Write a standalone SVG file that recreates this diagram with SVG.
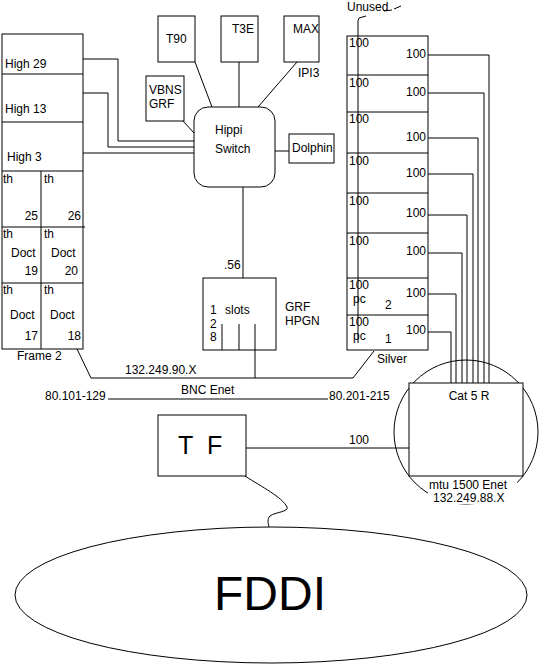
<svg xmlns="http://www.w3.org/2000/svg" width="539" height="668" viewBox="0 0 539 668">
<style>
.b{fill:none;stroke:#000;stroke-width:1}
.w{fill:#fff;stroke:#000;stroke-width:1}
.c{fill:none;stroke:#000;stroke-width:1}
text{font-family:"Liberation Sans",Arial,sans-serif;font-size:12px;fill:#000}
.r{text-anchor:end}
.m{text-anchor:middle}
</style>
<rect width="539" height="668" fill="#fff"/>

<g id="connectors">
  <polyline class="c" points="83,59 118,59 118,141 194,141"/>
  <polyline class="c" points="83,93 108,93 108,147 194,147"/>
  <line class="c" x1="83" y1="153" x2="194" y2="153"/>
  <line class="c" x1="195" y1="62" x2="212" y2="107"/>
  <line class="c" x1="239" y1="62" x2="239" y2="107"/>
  <line class="c" x1="297" y1="62" x2="258" y2="107"/>
  <line class="c" x1="183" y1="121" x2="194" y2="133"/>
  <line class="c" x1="275" y1="151" x2="289" y2="151"/>
  <line class="c" x1="243" y1="187" x2="243" y2="278"/>
  <polyline class="c" points="77,349 91,378 353,378 374,351"/>
  <line class="c" x1="255" y1="350" x2="255" y2="378"/>
  <line class="c" x1="108" y1="399" x2="328" y2="399"/>
  <line class="c" x1="246" y1="448" x2="409" y2="448"/>
  <polyline class="c" points="428,55 489,55 489,383"/>
  <polyline class="c" points="428,93 484,93 484,383"/>
  <polyline class="c" points="428,138 478,138 478,383"/>
  <polyline class="c" points="428,174 473,174 473,383"/>
  <polyline class="c" points="428,215 467,215 467,383"/>
  <polyline class="c" points="428,253 462,253 462,383"/>
  <polyline class="c" points="428,294 456,294 456,383"/>
  <polyline class="c" points="428,332 451,332 451,383"/>
  <polyline class="c" points="358,343 358,21 359,18 366,16"/>
  <path class="c" d="M384,11 L392,10 M394,9 L401,6"/>
  <path class="c" d="M245,476 C262,487 282,497 287,507 C289,512 275,512 270,516 C267,519 268,523 269,527"/>
</g>

<g id="frame2">
  <rect class="b" x="2" y="34" width="81" height="315"/>
  <line class="c" x1="2" y1="74" x2="83" y2="74"/>
  <line class="c" x1="2" y1="122" x2="83" y2="122"/>
  <line class="c" x1="2" y1="171" x2="83" y2="171"/>
  <line class="c" x1="2" y1="227" x2="85" y2="227"/>
  <line class="c" x1="2" y1="283" x2="83" y2="283"/>
  <line class="c" x1="41" y1="171" x2="41" y2="349"/>
  <text x="5" y="68">High 29</text>
  <text x="5" y="113">High 13</text>
  <text x="7" y="161">High 3</text>
  <text x="3" y="183">th</text>
  <text x="44" y="183">th</text>
  <text class="r" x="38" y="220">25</text>
  <text class="r" x="81" y="220">26</text>
  <text x="3" y="238">th</text>
  <text x="44" y="238">th</text>
  <text x="11" y="257">Doct</text>
  <text x="51" y="257">Doct</text>
  <text class="r" x="38" y="275">19</text>
  <text class="r" x="78" y="275">20</text>
  <text x="3" y="294">th</text>
  <text x="44" y="294">th</text>
  <text x="10" y="319">Doct</text>
  <text x="50" y="319">Doct</text>
  <text class="r" x="38" y="340">17</text>
  <text class="r" x="81" y="340">18</text>
  <text x="17" y="360">Frame 2</text>
</g>

<g id="t90">
  <rect class="b" x="158" y="16" width="37" height="46"/>
  <text x="166" y="43">T90</text>
</g>
<g id="t3e">
  <rect class="b" x="221" y="16" width="37" height="46"/>
  <text x="232" y="33">T3E</text>
</g>
<g id="max">
  <rect class="b" x="284" y="16" width="35" height="46"/>
  <text x="293" y="33">MAX</text>
  <text x="298" y="77">IPI3</text>
</g>
<g id="vbns">
  <rect class="b" x="146" y="76" width="38" height="45"/>
  <text x="149" y="94">VBNS</text>
  <text x="149" y="108">GRF</text>
</g>
<g id="hippi">
  <rect class="b" x="194" y="107" width="81" height="80" rx="14" ry="14"/>
  <text x="215" y="134">Hippi</text>
  <text x="215" y="153">Switch</text>
</g>
<g id="dolphin">
  <rect class="b" x="289" y="134" width="45" height="29"/>
  <text x="292" y="152">Dolphin</text>
</g>

<g id="grf-hpgn">
  <rect class="b" x="203" y="278" width="73" height="72"/>
  <text x="224" y="269">.56</text>
  <text x="210" y="314">1</text>
  <text x="225" y="314">slots</text>
  <text x="210" y="328">2</text>
  <text x="210" y="341">8</text>
  <line class="c" x1="222" y1="324" x2="222" y2="350"/>
  <line class="c" x1="239" y1="324" x2="239" y2="350"/>
  <line class="c" x1="255" y1="324" x2="255" y2="350"/>
  <text x="285" y="311">GRF</text>
  <text x="285" y="325">HPGN</text>
</g>

<g id="silver">
  <rect class="b" x="347" y="36" width="81" height="314"/>
  <line class="c" x1="347" y1="75" x2="428" y2="75"/>
  <line class="c" x1="347" y1="112" x2="428" y2="112"/>
  <line class="c" x1="347" y1="153" x2="428" y2="153"/>
  <line class="c" x1="347" y1="193" x2="428" y2="193"/>
  <line class="c" x1="347" y1="233" x2="428" y2="233"/>
  <line class="c" x1="347" y1="278" x2="428" y2="278"/>
  <line class="c" x1="347" y1="315" x2="428" y2="315"/>
  <text x="349" y="47">100</text>
  <text x="349" y="87">100</text>
  <text x="349" y="123">100</text>
  <text x="349" y="165">100</text>
  <text x="349" y="205">100</text>
  <text x="349" y="245">100</text>
  <text x="349" y="289">100</text>
  <text x="349" y="326">100</text>
  <text x="353" y="303">pc</text>
  <text x="353" y="340">pc</text>
  <text x="385" y="309">2</text>
  <text x="385" y="343">1</text>
  <text class="r" x="426" y="58">100</text>
  <text class="r" x="426" y="96">100</text>
  <text class="r" x="426" y="141">100</text>
  <text class="r" x="426" y="177">100</text>
  <text class="r" x="426" y="217">100</text>
  <text class="r" x="426" y="255">100</text>
  <text class="r" x="426" y="297">100</text>
  <text class="r" x="426" y="334">100</text>
  <text x="377" y="363">Silver</text>
  <text x="347" y="11">Unused</text>
</g>

<g id="labels">
  <text x="125" y="374">132.249.90.X</text>
  <text x="181" y="394">BNC Enet</text>
  <text x="45" y="400">80.101-129</text>
  <text x="329" y="400">80.201-215</text>
  <text x="349" y="444">100</text>
</g>

<g id="tf">
  <rect class="b" x="158" y="415" width="88" height="61"/>
  <text x="178" y="454" style="font-size:25px">T</text>
  <text x="207" y="454" style="font-size:25px">F</text>
</g>

<g id="cat5r">
  <circle class="b" cx="466" cy="432" r="72"/>
  <rect class="w" x="409" y="383" width="114" height="93"/>
  <rect x="428" y="479" width="89" height="25" fill="#fff"/>
  <text class="m" x="469" y="400">Cat 5 R</text>
  <text x="429" y="489">mtu 1500 Enet</text>
  <text x="433" y="502">132.249.88.X</text>
</g>

<g id="fddi">
  <ellipse class="b" cx="271" cy="595" rx="256" ry="68"/>
  <text class="m" x="270" y="610" style="font-size:48px">FDDI</text>
</g>
</svg>
